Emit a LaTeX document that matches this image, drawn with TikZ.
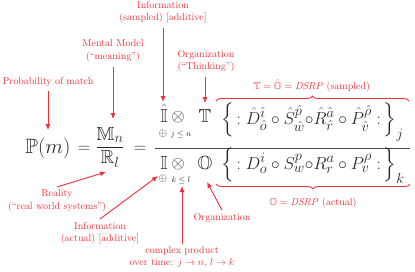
\documentclass[tikz,border=0pt]{standalone}
\usepackage{amsmath}
\usepackage{amssymb}
\usetikzlibrary{arrows.meta,decorations.pathreplacing}
\definecolor{annred}{RGB}{238,48,58}
\definecolor{ink}{RGB}{40,40,40}
\makeatletter
\newcommand\brcL{\mathopen{\bBigg@{1.75}\{}}
\newcommand\brcR{\mathclose{\bBigg@{1.75}\}}}
\makeatother
\begin{document}
\begin{tikzpicture}[x=1pt,y=-1pt,
  lab/.style={text=annred,font=\fontsize{10}{12.5}\selectfont,align=center,inner sep=0pt},
  arr/.style={draw=annred,line width=0.9pt,-{Latex[length=6pt,width=5pt]}},
  mth/.style={text=ink,inner sep=0pt,anchor=base,font=\fontsize{19}{23}\selectfont},
  opr/.style={text=ink,inner sep=0pt,anchor=base,font=\fontsize{16}{19}\selectfont},
  sml/.style={text=ink,inner sep=0pt,font=\fontsize{11}{13}\selectfont},
  brc/.style={draw=annred,line width=0.9pt,decorate,decoration={brace,amplitude=5pt}},
  rule/.style={draw=ink!85,line width=1pt}]
\useasboundingbox (0,0) rectangle (415,271);

% left part
\node[mth,font=\fontsize{20.74}{25}\selectfont] (P) at (48,153) {$\mathbb{P}(m)$};
\node[mth] (eqA) at (84,152) {$=$};
\node[mth] (MR) at (110,152) {$\dfrac{\mathbb{M}_n}{\mathbb{R}_l}$};
\node[mth] (eqB) at (140,152) {$=$};

% big fraction rule
\coordinate (ruleL) at (155,148);
\coordinate (ruleR) at (410,148);
\draw[rule] (ruleL) -- (ruleR);

% numerator
\node[mth] (Ih) at (164,122) {$\hat{\mathbb{I}}$};
\node[sml] (opN) at (163,134) {$\oplus$};
\node[opr] (otN) at (178,121) {$\otimes$};
\node[sml,font=\fontsize{8}{10}\selectfont] (jn) at (181,135) {$j\le n$};
\node[mth] (TT) at (205,122) {$\mathbb{T}$};
\node[mth,anchor=base west] (NUM) at (221,124)
  {$\brcL\,{:}\;\hat D^{\hat\imath}_{\hat o}\circ\hat S^{\hat p}_{\hat w}{\circ}\hat R^{\hat a}_{\hat r}\circ\hat P^{\hat\rho}_{\hat v}\;{:}\,\brcR_j$};

% denominator
\node[mth] (Id) at (164,169) {$\mathbb{I}$};
\node[sml] (opD) at (163,179) {$\oplus$};
\node[opr] (otD) at (178,168) {$\otimes$};
\node[sml,font=\fontsize{8}{10}\selectfont] (kl) at (181,180) {$k\le l$};
\node[mth] (OO) at (205,169) {$\mathbb{O}$};
\node[mth,anchor=base west] (DEN) at (221,169)
  {$\brcL\,{:}\;D^{i}_{o}\circ S^{p}_{w}{\circ}R^{a}_{r}\circ P^{\rho}_{v}\;{:}\,\brcR_k$};

% braces
\coordinate (bTl) at (216,101);
\coordinate (bTr) at (409,101);
\draw[brc] (bTl) -- (bTr);
\node[lab] (sampled) at (312,86) {$\mathbb{T}=\hat{\mathbb{O}}=\mathit{DSRP}$ (sampled)};
\coordinate (bBl) at (216,184);
\coordinate (bBr) at (410,184);
\draw[brc] (bBr) -- (bBl);
\node[lab] (actual) at (313,203) {$\mathbb{O}=\mathit{DSRP}$ (actual)};

% annotations
\node[lab] (lprob) at (48,82) {Probability of match};
\coordinate (tprob) at (48,130);
\draw[arr] (48,91) -- (tprob);

\node[lab] (lmm) at (113,51) {Mental Model\\(``meaning'')};
\coordinate (tmm) at (113,119);
\draw[arr] (113,67) -- (tmm);

\node[lab] (linfs) at (163,12) {Information\\(sampled) [additive]};
\coordinate (tinfs) at (163,102);
\draw[arr] (163,28) -- (tinfs);

\node[lab] (lorg) at (206,61) {Organization\\(``Thinking'')};
\coordinate (torg) at (205,103);
\draw[arr] (205,77) -- (torg);

\node[lab] (lreal) at (57,201) {Reality\\(``real world systems'')};
\coordinate (treal) at (106,172);
\draw[arr] (57,187) -- (treal);

\node[lab] (linfa) at (100,233) {Information\\(actual) [additive]};
\coordinate (tinfa) at (158,176);
\draw[arr] (100,219) -- (tinfa);

\node[lab] (lcp) at (182,257) {complex product\\over time: $j\to n$, $l\to k$};
\coordinate (tcp) at (182,186);
\draw[arr] (182,244) -- (tcp);

\node[lab] (lorgb) at (222,218) {Organization};
\coordinate (torgb) at (207,182);
\draw[arr] (222,210) -- (torgb);
\end{tikzpicture}
\end{document}
